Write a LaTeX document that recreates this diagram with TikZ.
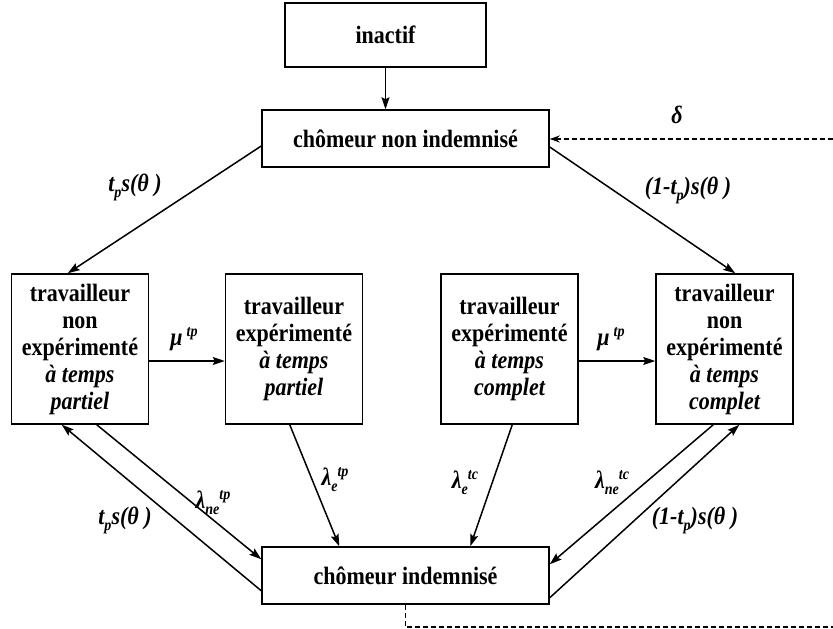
\documentclass[tikz,border=0pt]{standalone}
\usepackage{fontspec}
\setmainfont{Liberation Serif}
\usetikzlibrary{arrows.meta,calc}
\newcommand\lo[1]{\raisebox{-6pt}{\fontsize{16}{16}\selectfont #1}}
\newcommand\hi[1]{\raisebox{9pt}{\fontsize{16}{16}\selectfont #1}}
\newfontfamily\condfont[FakeStretch=0.88]{Liberation Serif}
\tikzset{
  box/.style={draw,line width=1.5pt,align=center,inner sep=0pt,
    font=\condfont\fontsize{25}{27}\selectfont\bfseries},
  wbox/.style={box,minimum width=137pt,minimum height=150pt},
  wide/.style={box,minimum width=287pt,minimum height=57pt},
  arr/.style={line width=1.5pt,-{Stealth[length=12pt,width=8pt,inset=2pt]}},
  dsh/.style={line width=1.5pt,dash pattern=on 5pt off 3pt},
  lab/.style={inner sep=0pt,font=\condfont\fontsize{25}{27}\selectfont\bfseries\itshape}
}
\begin{document}
\begin{tikzpicture}[x=1pt,y=-1pt]
\useasboundingbox (0,0) rectangle (833,629);
\node[box,minimum width=201pt,minimum height=64pt] (ina) at (385.5,35) {inactif};
\node[wide] (cni) at (405.5,138.5) {chômeur non indemnisé};
\node[wide] (ci) at (405.5,575.5) {chômeur indemnisé};
\node[wbox] (w1) at (80,349) {travailleur\\non\\expérimenté\\\itshape à temps\\\itshape partiel};
\node[wbox] (w2) at (294,349) {travailleur\\expérimenté\\\itshape à temps\\\itshape partiel};
\node[wbox] (w3) at (509.5,349) {travailleur\\expérimenté\\\itshape à temps\\\itshape complet};
\node[wbox] (w4) at (724.5,349) {travailleur\\non\\expérimenté\\\itshape à temps\\\itshape complet};
\coordinate (rt) at (833,139);
\coordinate (rb) at (833,627);
% connectors
\draw[arr] (ina.south) -- (ina.south |- cni.north);
\draw[arr] ($(cni.west)+(0,7.5)$) -- ($(w1.north west)+(57,0)$);
\draw[arr] ($(cni.east)+(0,8.5)$) -- ($(w4.north west)+(80,0)$);
\draw[arr] ($(w1.east)+(0,12)$) -- ($(w2.west)+(0,12)$);
\draw[arr] ($(w3.east)+(0,12)$) -- ($(w4.west)+(0,12)$);
\draw[dsh,-{Stealth[length=10pt,width=7pt]}] (rt) -- (cni.east |- rt);
\draw[dsh] (ci.south) |- (rb);
\draw[arr] ($(ci.south west)+(0,-14)$) -- ($(w1.south west)+(51,0)$);
\draw[arr] ($(w1.south west)+(86,0)$) -- ($(ci.north west)+(0,13)$);
\draw[arr] ($(w2.south west)+(65,0)$) -- ($(ci.north west)+(78,0)$);
\draw[arr] ($(w3.south west)+(72,0)$) -- ($(ci.north west)+(209,0)$);
\draw[arr] ($(w4.south west)+(58,0)$) -- ($(ci.north east)+(0,18)$);
\draw[arr] ($(ci.south east)+(0,-7)$) -- ($(w4.south west)+(84,0)$);
% labels
\node[lab] (ld) at (677,115) {δ};
\node[lab] (l1) at (135,187) {t\lo{p}s(θ )};
\node[lab] (l2) at (688,190) {(1-t\lo{p})s(θ )};
\node[lab] (lm1) at (184,339) {μ\,\hi{tp}};
\node[lab] (lm2) at (611,339) {μ\,\hi{tp}};
\node[lab] (l3) at (213,503) {λ\lo{ne}\hi{tp}};
\node[lab] (l4) at (125,520) {t\lo{p}s(θ )};
\node[lab] (l5) at (335,480) {λ\lo{e}\hi{tp}};
\node[lab] (l6) at (465,483) {λ\lo{e}\hi{tc}};
\node[lab] (l7) at (612,483) {λ\lo{ne}\hi{tc}};
\node[lab] (l8) at (695,520) {(1-t\lo{p})s(θ )};
\end{tikzpicture}
\end{document}
